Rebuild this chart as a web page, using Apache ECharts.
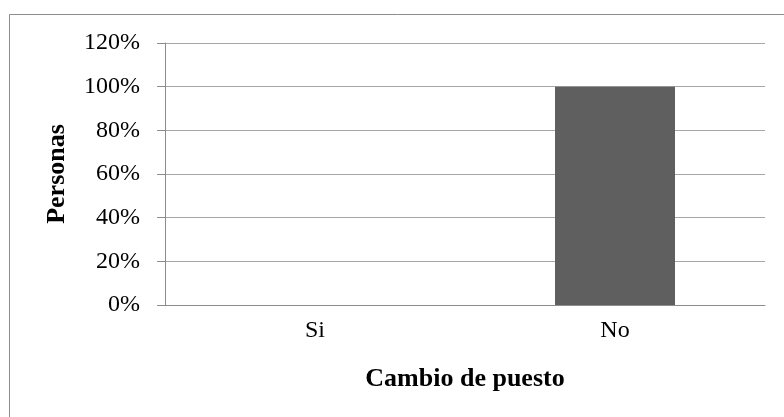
<!DOCTYPE html>
<html>
<head>
<meta charset="utf-8">
<style>
  html, body { margin: 0; padding: 0; background: #fff; }
  #chart { width: 784px; height: 417px; }
</style>
<script src="https://cdn.jsdelivr.net/npm/echarts@6/dist/echarts.min.js"></script>
</head>
<body>
<div id="chart"></div>
<script>
// Share of people who changed job position
const categories = ['Si', 'No'];
const shares = [0, 100];
const yTicks = { min: 0, max: 120, step: 20 };

const serif = '"Liberation Serif", "Times New Roman", serif';
const chart = echarts.init(document.getElementById('chart'), null, { renderer: 'canvas' });

chart.setOption({
  backgroundColor: '#ffffff',
  animation: false,
  graphic: [{
    type: 'rect',
    shape: { x: 9.5, y: 14.5, width: 800, height: 420 },
    style: { fill: 'none', stroke: '#8c8c8c', lineWidth: 1 },
    silent: true
  }],
  grid: { left: 165, right: 19, top: 43, bottom: 112 },
  xAxis: {
    type: 'category',
    data: categories,
    name: 'Cambio de puesto',
    nameLocation: 'middle',
    nameGap: 61,
    nameTextStyle: { fontFamily: serif, fontWeight: 'bold', fontSize: 26, color: '#000' },
    axisLine: { lineStyle: { color: '#8c8c8c', width: 1 } },
    axisTick: { show: false },
    axisLabel: { fontFamily: serif, fontSize: 24, color: '#000', margin: 14 }
  },
  yAxis: {
    type: 'value',
    min: yTicks.min,
    max: yTicks.max,
    interval: yTicks.step,
    name: 'Personas',
    nameLocation: 'middle',
    nameGap: 95,
    nameTextStyle: { fontFamily: serif, fontWeight: 'bold', fontSize: 26, color: '#000' },
    axisLine: { show: true, lineStyle: { color: '#8c8c8c', width: 1 } },
    axisTick: { show: true, length: 8, lineStyle: { color: '#8c8c8c' } },
    axisLabel: {
      fontFamily: serif, fontSize: 24, color: '#000', margin: 25,
      formatter: v => v + '%'
    },
    splitLine: { show: true, lineStyle: { color: '#a6a6a6', width: 1 } }
  },
  series: [{
    type: 'bar',
    data: shares,
    barWidth: '40%',
    itemStyle: { color: '#5f5f5f' }
  }]
});
</script>
</body>
</html>
